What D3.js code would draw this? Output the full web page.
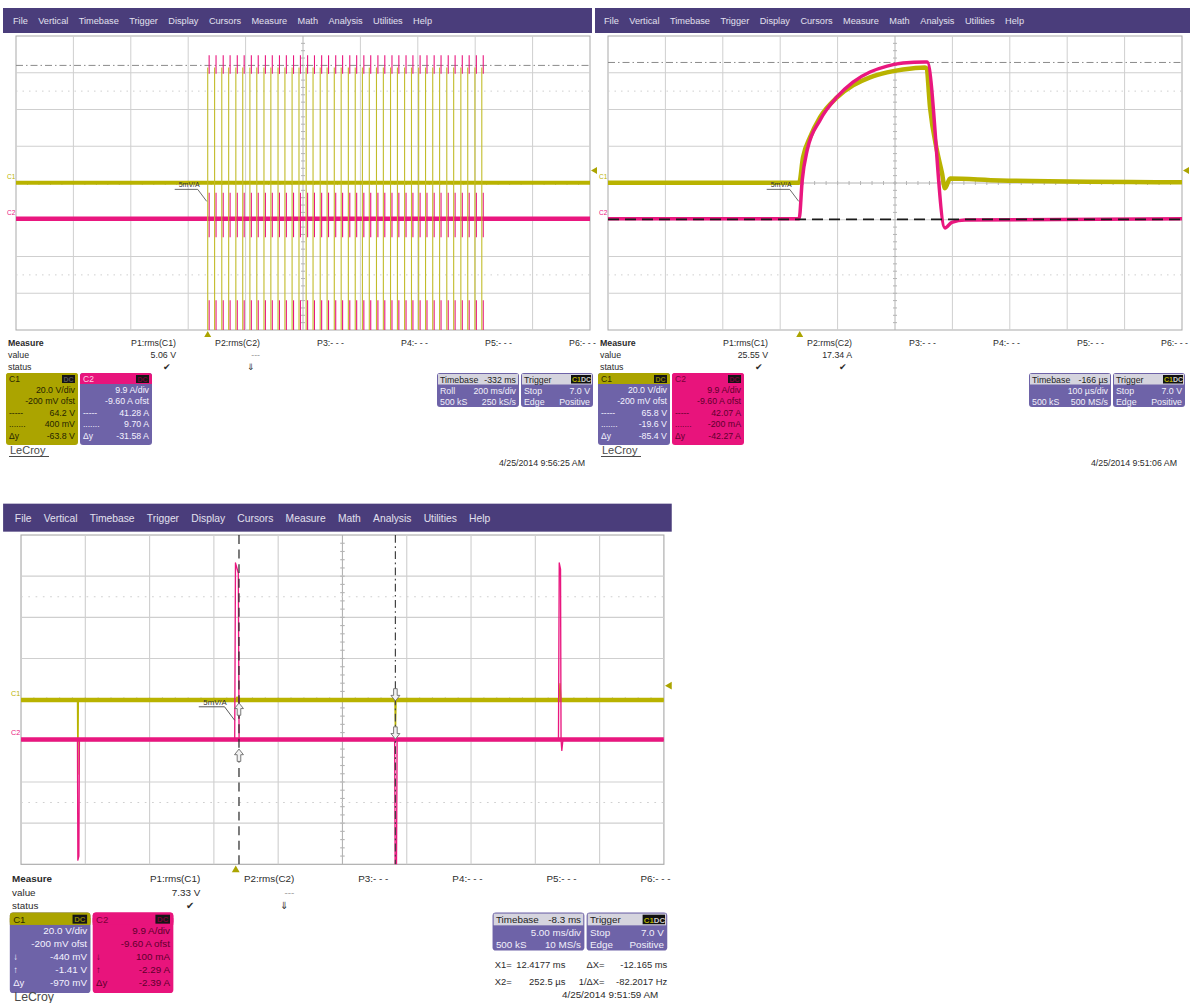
<!DOCTYPE html>
<html>
<head>
<meta charset="utf-8">
<script src="https://cdn.jsdelivr.net/npm/d3@7"></script>
<style>
  html, body { margin: 0; background: #ffffff; }
  svg { display: block; font-family: "Liberation Sans", Arial, sans-serif; }
</style>
</head>
<body>
<svg id="scope" width="1190" height="1003"></svg>
<script>
// ---------- shared texts ----------
const menuItems = ["File", "Vertical", "Timebase", "Trigger", "Display", "Cursors", "Measure", "Math", "Analysis", "Utilities", "Help"];
const measureHeads = ["P1:rms(C1)", "P2:rms(C2)", "P3:- - -", "P4:- - -", "P5:- - -", "P6:- - -"];
const measureRows = ["Measure", "value", "status"];
const triggerRows = [["Stop", "7.0 V"], ["Edge", "Positive"]];
const boxHeads = ["20.0 V/div", "-200 mV ofst"];
const boxHeadsC2 = ["9.9 A/div", "-9.60 A ofst"];

// ---------- capture 1: PWM burst, 200 ms/div, time in ms from trigger ----------
const burstWindow = [-668, 1332];
const burstPulseTimes = [0, 24, 49, 73, 98, 122, 147, 171, 196, 220, 245, 269, 294, 318, 343, 367, 392, 416, 441, 465,
                         490, 514, 539, 563, 588, 612, 637, 661, 686, 710, 735, 759, 784, 808, 833, 857, 882, 906, 931, 955];
const burstC1Level = 0.3;                          // V between pulses
const burstC2Level = 0;                            // A between pulses
const burstC1Swing = [63, -95];                    // V, extremes of each switching edge
const burstC2Swing = [[44, 39], [7, -5], [-22, -36]]; // A, visible parts of each current spike
const burstC2Lag = 5;                              // ms, current spike after the voltage edge
const burstCursorC1 = [64.2, 0.4];
const burstValues = ["5.06 V", "---"];
const burstStatus = ["\u2714", "\u21d3"];
const burstC1Box = ["64.2 V", "400 mV", "-63.8 V"];
const burstC2Box = ["41.28 A", "9.70 A", "-31.58 A"];
const burstTimebase = [["Timebase", "-332 ms"], ["Roll", "200 ms/div"], ["500 kS", "250 kS/s"]];
const burstStamp = "4/25/2014 9:56:25 AM";

// ---------- capture 2: single pulse, 100 µs/div, time in µs from trigger ----------
const pulseWindow = [-334, 666];
const pulseC1 = [[-334, 0.3], [-1, 0.3], [5.7, 14.1], [17.9, 25.0], [35.3, 35.9], [65, 46.8], [92.8, 53.3], [122.5, 57.7],
                 [152.3, 60.4], [179.9, 62.0], [218.3, 63.1], [221, 62.6], [227, 41.4], [239, 18.0], [248, 5.4],
                 [253, -2.7], [262, 2.7], [349, 1.6], [666, 0.6]];
const pulseC2 = [[-334, 0], [-1, 0], [4.4, 10.4], [13.1, 18.5], [35.7, 26.6], [65, 32.8], [92.8, 36.8], [122.5, 39.5],
                 [152.3, 41.1], [180, 41.9], [218, 42.2], [222, 42.2], [253, -2.5], [265, -1.0], [288, -0.4], [666, 0]];
const pulseCursorC1 = [65.8, -19.6];
const pulseValues = ["25.55 V", "17.34 A"];
const pulseStatus = ["\u2714", "\u2714"];
const pulseC1Box = ["65.8 V", "-19.6 V", "-85.4 V"];
const pulseC2Box = ["42.07 A", "-200 mA", "-42.27 A"];
const pulseTimebase = [["Timebase", "-166 \u00b5s"], ["", "100 \u00b5s/div"], ["500 kS", "500 MS/s"]];
const pulseStamp = "4/25/2014 9:51:06 AM";

// ---------- capture 3: isolated spikes, 5 ms/div, time in ms from trigger ----------
const spikeWindow = [-16.7, 33.3];
const spikeC1Level = 0;   // V
const spikeC2Level = 0;   // A
const spikeC1 = [[-16.7, 0], [-12.31, 0], [-12.28, -36], [-12.24, 0], [-0.05, 0], [0.1, 1.5], [0.3, 0],
                 [12.38, 0], [12.42, -18], [12.47, 0], [25.15, 0], [25.22, 8], [25.3, 0], [33.3, 0]];
const spikeC2 = [[-16.7, 0], [-12.31, 0], [-12.28, -29], [-12.2, -28], [-12.16, 0], [-0.08, 0], [-0.02, 42.5],
                 [0.2, 40], [0.26, 0], [12.36, 0], [12.4, -32], [12.5, -31], [12.55, 0], [25.1, 0], [25.16, 42.5],
                 [25.26, 41], [25.3, 0], [25.36, -2.6], [25.45, 0], [33.3, 0]];
const spikeCursorX = [12.4177, 0.2525];   // X1 (dash-dot), X2 (dashed)
const spikeCursorC1 = [-0.44, -1.41];
const spikeCursorC2 = [0.1, -2.29];
const spikeValues = ["7.33 V", "---"];
const spikeStatus = ["\u2714", "\u21d3"];
const spikeC1Box = ["-440 mV", "-1.41 V", "-970 mV"];
const spikeC2Box = ["100 mA", "-2.29 A", "-2.39 A"];
const spikeTimebase = [["Timebase", "-8.3 ms"], ["", "5.00 ms/div"], ["500 kS", "10 MS/s"]];
const spikeReadout = [["X1=", "12.4177 ms", "\u0394X=", "-12.165 ms"], ["X2=", "252.5 \u00b5s", "1/\u0394X=", "-82.2017 Hz"]];
const spikeStamp = "4/25/2014 9:51:59 AM";

// ---------- drawing ----------
const svg = d3.select("#scope");
const C1 = "#b9b300", C2 = "#e9177f", MENU = "#4a3d7b", PURPLE = "#6e63a8", OLIVE = "#aba400", MAG = "#e8147c";
const L = 16, R = 590, T = 36, B = 330;

function makeScales(win) {
  return {
    x: d3.scaleLinear().domain(win).range([L, R]),
    y1: d3.scaleLinear().domain([0.2 - 80, 0.2 + 80]).range([B, T]),
    y2: d3.scaleLinear().domain([9.6 - 39.6, 9.6 + 39.6]).range([B, T])
  };
}

function hCursor(p, y, color, dash, w) {
  p.append("line").attr("x1", L).attr("x2", R).attr("y1", y).attr("y2", y)
    .attr("stroke", color).attr("stroke-width", w || 1).attr("stroke-dasharray", dash);
}

function trace(p, data, x, y, color, width, curve) {
  p.append("path").datum(data)
    .attr("d", d3.line().x(d => x(d[0])).y(d => y(d[1])).curve(curve || d3.curveLinear))
    .attr("fill", "none").attr("stroke", color).attr("stroke-width", width).attr("stroke-linejoin", "round");
}

function cursorArrow(p, x, y, dir) {
  const pts = [[0, 0], [-4, 5], [-1.6, 5], [-1.6, 11], [1.6, 11], [1.6, 5], [4, 5]];
  p.append("path").attr("d", "M" + pts.map(q => [x + q[0], y + dir * q[1]].join(",")).join("L") + "Z")
    .attr("fill", "#f2f2f2").attr("stroke", "#6a6a6a").attr("stroke-width", 0.8);
}

function burstTraces(p, sc) {
  hCursor(p, sc.y1(burstCursorC1[0]), "#8a8a8a", "7,3,1.5,3");
  hCursor(p, sc.y1(burstCursorC1[1]), "#8a8a8a", "1.5,2");
  trace(p, [[burstWindow[0], burstC1Level], [burstWindow[1], burstC1Level]], sc.x, sc.y1, C1, 4);
  trace(p, [[burstWindow[0], burstC2Level], [burstWindow[1], burstC2Level]], sc.x, sc.y2, C2, 4.5);
  p.selectAll(".c2p").data(burstPulseTimes.flatMap(t => burstC2Swing.map(s => [t + burstC2Lag, s]))).join("line")
    .attr("class", "c2p")
    .attr("x1", d => sc.x(d[0])).attr("x2", d => sc.x(d[0]))
    .attr("y1", d => sc.y2(d[1][0])).attr("y2", d => sc.y2(d[1][1]))
    .attr("stroke", C2).attr("stroke-width", 1.1);
  p.selectAll(".c1p").data(burstPulseTimes).join("line").attr("class", "c1p")
    .attr("x1", d => sc.x(d)).attr("x2", d => sc.x(d))
    .attr("y1", sc.y1(burstC1Swing[0])).attr("y2", sc.y1(burstC1Swing[1]))
    .attr("stroke", "#c2bc2a").attr("stroke-width", 1.1);
}

function pulseTraces(p, sc) {
  hCursor(p, sc.y1(pulseCursorC1[0]), "#8a8a8a", "7,3,1.5,3");
  trace(p, pulseC1, sc.x, sc.y1, C1, 4.5, d3.curveMonotoneX);
  trace(p, pulseC2, sc.x, sc.y2, C2, 3.5, d3.curveMonotoneX);
  hCursor(p, sc.y1(pulseCursorC1[1]), "#1a1a1a", "11,6", 1.6);
}

function spikeTraces(p, sc) {
  // noisy resting levels drawn as bands, the spikes themselves as thin strokes
  trace(p, [[spikeWindow[0], spikeC1Level], [spikeWindow[1], spikeC1Level]], sc.x, sc.y1, C1, 4);
  trace(p, spikeC1, sc.x, sc.y1, C1, 1.2);
  trace(p, [[spikeWindow[0], spikeC2Level], [spikeWindow[1], spikeC2Level]], sc.x, sc.y2, C2, 4);
  trace(p, spikeC2, sc.x, sc.y2, C2, 1.2);
  const x1 = sc.x(spikeCursorX[0]), x2 = sc.x(spikeCursorX[1]);
  p.append("line").attr("x1", x2).attr("x2", x2).attr("y1", T).attr("y2", B)
    .attr("stroke", "#2a2a2a").attr("stroke-width", 1.1).attr("stroke-dasharray", "8,5");
  p.append("line").attr("x1", x1).attr("x2", x1).attr("y1", T).attr("y2", B)
    .attr("stroke", "#444").attr("stroke-width", 1.1).attr("stroke-dasharray", "7,3,1.5,3");
  cursorArrow(p, x1, sc.y1(spikeCursorC1[0]), -1);
  cursorArrow(p, x1, sc.y2(spikeCursorC2[0]), -1);
  cursorArrow(p, x2, sc.y1(spikeCursorC1[1]), 1);
  cursorArrow(p, x2, sc.y2(spikeCursorC2[1]), 1);
}

function channelBox(g, x, y, o) {
  const w = 72, h = 72;
  g.append("rect").attr("x", x).attr("y", y).attr("width", w).attr("height", h).attr("rx", 3).attr("fill", o.body);
  g.append("rect").attr("x", x).attr("y", y).attr("width", w).attr("height", 11).attr("rx", 3).attr("fill", o.head);
  g.append("rect").attr("x", x).attr("y", y + 5).attr("width", w).attr("height", 6).attr("fill", o.head);
  g.append("text").attr("x", x + 3).attr("y", y + 9).attr("font-size", 8.5).attr("fill", o.headText).text(o.label);
  g.append("rect").attr("x", x + w - 16).attr("y", y + 2).attr("width", 13).attr("height", 8).attr("fill", "#151515");
  g.append("text").attr("x", x + w - 9.5).attr("y", y + 8.8).attr("text-anchor", "middle").attr("font-size", 7)
    .attr("font-weight", "bold").attr("fill", o.badge).text("DC");
  const rows = o.scale.concat(o.rows);
  g.selectAll(null).data(rows).join("text")
    .attr("x", x + w - 3).attr("y", (d, i) => y + 19.5 + i * 11.5).attr("text-anchor", "end")
    .attr("font-size", 8.8).attr("fill", o.bodyText).text(d => d);
  g.selectAll(null).data(o.syms).join("text")
    .attr("x", x + 3).attr("y", (d, i) => y + 19.5 + (i + 2) * 11.5)
    .attr("font-size", 8.5).attr("fill", o.bodyText).text(d => d);
}

function infoBox(g, x, y, w, head, headRight, rows, badge) {
  g.append("rect").attr("x", x).attr("y", y).attr("width", w).attr("height", 34).attr("rx", 3).attr("fill", PURPLE);
  g.append("rect").attr("x", x + 1).attr("y", y + 1).attr("width", w - 2).attr("height", 10.5).attr("fill", "#d5d4de");
  g.append("text").attr("x", x + 3).attr("y", y + 9.5).attr("font-size", 8.8).attr("fill", "#222").text(head);
  if (headRight) g.append("text").attr("x", x + w - 3).attr("y", y + 9.5).attr("text-anchor", "end")
    .attr("font-size", 8.8).attr("fill", "#222").text(headRight);
  if (badge) {
    g.append("rect").attr("x", x + w - 22).attr("y", y + 2).attr("width", 20).attr("height", 8.5).attr("fill", "#111");
    g.append("text").attr("x", x + w - 21).attr("y", y + 9).attr("font-size", 7).attr("font-weight", "bold").attr("fill", C1).text("C1");
    g.append("text").attr("x", x + w - 12).attr("y", y + 9).attr("font-size", 7).attr("font-weight", "bold").attr("fill", "#ccc").text("DC");
  }
  rows.forEach((r, i) => {
    g.append("text").attr("x", x + 3).attr("y", y + 21 + i * 10.5).attr("font-size", 8.8).attr("fill", "#f2f0fa").text(r[0]);
    g.append("text").attr("x", x + w - 3).attr("y", y + 21 + i * 10.5).attr("text-anchor", "end")
      .attr("font-size", 8.8).attr("fill", "#f2f0fa").text(r[1]);
  });
}

function drawPanel(cfg) {
  const g = svg.append("g").attr("transform", `translate(${cfg.tx},${cfg.ty}) scale(${cfg.s})`);
  const sc = makeScales(cfg.window);

  // menu bar
  g.append("rect").attr("x", cfg.menu[0]).attr("y", 8).attr("width", cfg.menu[1] - cfg.menu[0]).attr("height", 25).attr("fill", MENU);
  const items = g.append("g").attr("font-size", 9.2).attr("fill", "#e2e0ee")
    .selectAll("text").data(menuItems).join("text").attr("y", 24.3).text(d => d);
  const wd = items.nodes().map(n => n.getComputedTextLength());
  const gap = (cfg.menuSpan[1] - cfg.menuSpan[0] - d3.sum(wd)) / (menuItems.length - 1);
  items.attr("x", (d, i) => cfg.menuSpan[0] + d3.sum(wd.slice(0, i)) + gap * i);

  // graticule
  const gx = d3.scaleLinear().domain([0, 10]).range([L, R]);
  const gy = d3.scaleLinear().domain([0, 8]).range([T, B]);
  const grid = g.append("g");
  grid.append("rect").attr("x", L).attr("y", T).attr("width", R - L).attr("height", B - T)
    .attr("fill", "#fff").attr("stroke", "#a9a9a9");
  grid.selectAll(".gv").data(d3.range(1, 10)).join("line").attr("class", "gv")
    .attr("x1", gx).attr("x2", gx).attr("y1", T).attr("y2", B).attr("stroke", d => d === 5 ? "#b4b4b4" : "#cfcfcf");
  grid.selectAll(".gh").data(d3.range(1, 8)).join("line").attr("class", "gh")
    .attr("y1", gy).attr("y2", gy).attr("x1", L).attr("x2", R).attr("stroke", d => d === 4 ? "#b4b4b4" : "#cfcfcf");
  grid.selectAll(".dr").data([1.5, 6.5]).join("line").attr("class", "dr")
    .attr("y1", gy).attr("y2", gy).attr("x1", L).attr("x2", R)
    .attr("stroke", "#cfcfcf").attr("stroke-dasharray", "1.5,5");
  grid.selectAll(".tx").data(d3.range(1, 50)).join("line").attr("class", "tx")
    .attr("x1", d => gx(d / 5)).attr("x2", d => gx(d / 5)).attr("y1", gy(4) - 2).attr("y2", gy(4) + 2).attr("stroke", "#b4b4b4");
  grid.selectAll(".ty").data(d3.range(1, 40)).join("line").attr("class", "ty")
    .attr("y1", d => gy(d / 5)).attr("y2", d => gy(d / 5)).attr("x1", gx(5) - 2).attr("x2", gx(5) + 2).attr("stroke", "#b4b4b4");

  // traces
  g.append("clipPath").attr("id", "clip" + cfg.id).append("rect")
    .attr("x", L).attr("y", T).attr("width", R - L).attr("height", B - T);
  const plot = g.append("g").attr("clip-path", `url(#clip${cfg.id})`);
  cfg.traces(plot, sc);

  // channel tags and markers
  g.append("text").attr("x", L - 9).attr("y", sc.y1(0) - 4).attr("font-size", 6.5).attr("fill", C1).text("C1");
  g.append("text").attr("x", L - 9).attr("y", sc.y2(0) - 4).attr("font-size", 6.5).attr("fill", C2).text("C2");
  const ty = sc.y1(7);
  g.append("path").attr("d", `M${R + 1},${ty}L${R + 7},${ty - 3.5}L${R + 7},${ty + 3.5}Z`).attr("fill", OLIVE);
  const tx = sc.x(0);
  g.append("path").attr("d", `M${tx},${B + 1}L${tx - 3.5},${B + 7}L${tx + 3.5},${B + 7}Z`).attr("fill", OLIVE);
  // probe tag
  const py = sc.y1(0) + 4;
  g.append("text").attr("x", tx - 8).attr("y", py).attr("text-anchor", "end").attr("font-size", 7).attr("fill", "#333").text("5mV/A");
  g.append("path").attr("d", `M${tx - 33},${py + 2}L${tx - 10},${py + 2}L${tx - 1},${py + 14}`)
    .attr("fill", "none").attr("stroke", "#444").attr("stroke-width", 0.8);

  // measurement table
  const mt = g.append("g").attr("font-size", 8.8).attr("fill", "#2b2b2b");
  mt.selectAll(".mr").data(measureRows).join("text").attr("class", "mr")
    .attr("x", 8).attr("y", (d, i) => 346 + i * 12).attr("font-weight", (d, i) => i === 0 ? "bold" : null).text(d => d);
  const colRight = d3.scaleLinear().domain([0, 5]).range([176, 596]);
  mt.selectAll(".mh").data(measureHeads).join("text").attr("class", "mh")
    .attr("x", (d, i) => colRight(i)).attr("y", 346).attr("text-anchor", "end").text(d => d);
  mt.selectAll(".mv").data(cfg.values).join("text").attr("class", "mv")
    .attr("x", (d, i) => colRight(i)).attr("y", 358).attr("text-anchor", "end")
    .attr("fill", d => d === "---" ? "#999" : "#2b2b2b").text(d => d);
  mt.selectAll(".ms").data(cfg.status).join("text").attr("class", "ms")
    .attr("x", (d, i) => colRight(i) - 9).attr("y", 370).attr("text-anchor", "middle").attr("font-size", 9).text(d => d);

  channelBox(g, 6, 373, cfg.c1box);
  channelBox(g, 80, 373, cfg.c2box);
  infoBox(g, 437, 373, 82, cfg.timebase[0][0], cfg.timebase[0][1], cfg.timebase.slice(1), false);
  infoBox(g, 521, 373, 72, "Trigger", null, triggerRows, true);

  if (cfg.readout) {
    cfg.readout.forEach((r, i) => {
      const y = 423 + i * 15;
      const rt = g.append("g").attr("font-size", 8.4).attr("fill", "#2b2b2b");
      rt.append("text").attr("x", 439).attr("y", y).text(r[0]);
      rt.append("text").attr("x", 502).attr("y", y).attr("text-anchor", "end").text(r[1]);
      rt.append("text").attr("x", 537).attr("y", y).attr("text-anchor", "end").text(r[2]);
      rt.append("text").attr("x", 593).attr("y", y).attr("text-anchor", "end").text(r[3]);
    });
  }
  g.append("text").attr("x", 585).attr("y", cfg.stampY).attr("text-anchor", "end").attr("font-size", 8.8).attr("fill", "#2b2b2b").text(cfg.stamp);
  g.append("text").attr("x", 10).attr("y", cfg.logoY).attr("font-size", 11).attr("fill", "#4a4a4a").text("LeCroy");
  g.append("line").attr("x1", 9).attr("x2", 49).attr("y1", cfg.logoY + 2.5).attr("y2", cfg.logoY + 2.5).attr("stroke", "#4a4a4a").attr("stroke-width", 1.2);
}

const selC1 = (rows) => ({ label: "C1", head: OLIVE, body: OLIVE, headText: "#2b2a00", bodyText: "#262500", badge: "#555", scale: boxHeads, rows, syms: ["-----", ".......", "\u0394y"] });
const selC2 = (rows, syms) => ({ label: "C2", head: MAG, body: MAG, headText: "#7a0038", bodyText: "#5e002c", badge: "#7a0038", scale: boxHeadsC2, rows, syms });
const offC1 = (rows, syms) => ({ label: "C1", head: OLIVE, body: PURPLE, headText: "#2b2a00", bodyText: "#f4f2ff", badge: "#8a8400", scale: boxHeads, rows, syms });
const offC2 = (rows) => ({ label: "C2", head: MAG, body: PURPLE, headText: "#ffd0e6", bodyText: "#f4f2ff", badge: "#7a0038", scale: boxHeadsC2, rows, syms: ["-----", ".......", "\u0394y"] });

drawPanel({ id: "a", tx: 0, ty: 0, s: 1, window: burstWindow, menu: [3, 592], menuSpan: [13, 432],
  traces: burstTraces, values: burstValues, status: burstStatus,
  c1box: selC1(burstC1Box), c2box: offC2(burstC2Box), timebase: burstTimebase, stamp: burstStamp, stampY: 466, logoY: 454 });
drawPanel({ id: "b", tx: 592, ty: 0, s: 1, window: pulseWindow, menu: [3, 598], menuSpan: [12, 432],
  traces: pulseTraces, values: pulseValues, status: pulseStatus,
  c1box: offC1(pulseC1Box, ["-----", ".......", "\u0394y"]), c2box: selC2(pulseC2Box, ["-----", ".......", "\u0394y"]),
  timebase: pulseTimebase, stamp: pulseStamp, stampY: 466, logoY: 454 });
drawPanel({ id: "c", tx: 3.1, ty: 494.7, s: 1.12, window: spikeWindow, menu: [0, 597], menuSpan: [10.5, 435],
  traces: spikeTraces, values: spikeValues, status: spikeStatus,
  c1box: offC1(spikeC1Box, ["\u2193", "\u2191", "\u0394y"]), c2box: selC2(spikeC2Box, ["\u2193", "\u2191", "\u0394y"]),
  timebase: spikeTimebase, readout: spikeReadout, stamp: spikeStamp, stampY: 449, logoY: 452 });
</script>
</body>
</html>
